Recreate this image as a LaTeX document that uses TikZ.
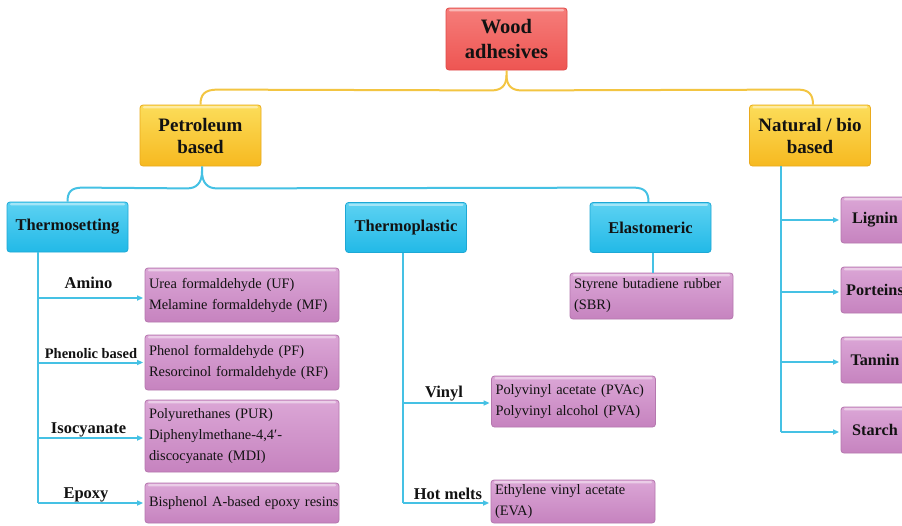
\documentclass[tikz,border=0pt]{standalone}
\usepackage{fontspec}
\setmainfont{Liberation Serif}
\newfontfamily\listfont[WordSpace=1.6]{Liberation Serif}
\usetikzlibrary{arrows.meta,calc}
\definecolor{redA}{HTML}{F57D7A}
\definecolor{redB}{HTML}{EE5552}
\definecolor{redD}{HTML}{E04A48}
\definecolor{yelA}{HTML}{FCDD5A}
\definecolor{yelB}{HTML}{F6B920}
\definecolor{yelD}{HTML}{EAAA1C}
\definecolor{bluA}{HTML}{5DD2F2}
\definecolor{bluB}{HTML}{22B9E7}
\definecolor{bluD}{HTML}{1EA8D5}
\definecolor{purA}{HTML}{DBA6D6}
\definecolor{purB}{HTML}{C683BF}
\definecolor{purD}{HTML}{B577AE}
\definecolor{lineY}{HTML}{F3C542}
\definecolor{lineB}{HTML}{45C1E4}
\definecolor{ink}{HTML}{121212}
\tikzset{
  gloss/.style={path picture={\fill[white,opacity=0.45,rounded corners=1pt]
     ([xshift=3pt,yshift=-1.2pt]path picture bounding box.north west) rectangle
     ([xshift=-3pt,yshift=-3.4pt]path picture bounding box.north east);}},
  basebox/.style={rounded corners=3pt, inner sep=0pt, text=ink, align=center,
     line width=0.8pt, gloss},
  rootbox/.style={basebox, draw=redD, top color=redA, bottom color=redB,
     minimum width=121pt, minimum height=62pt,
     font=\fontsize{20.5}{24.5}\selectfont\bfseries},
  catbox/.style={basebox, draw=yelD, top color=yelA, bottom color=yelB,
     minimum width=121pt, minimum height=61pt,
     font=\fontsize{19}{22}\selectfont\bfseries},
  typebox/.style={basebox, draw=bluD, top color=bluA, bottom color=bluB,
     minimum width=121pt, minimum height=50pt,
     font=\fontsize{16.5}{20}\selectfont\bfseries},
  leafbox/.style={basebox, draw=purD, top color=purA, bottom color=purB,
     minimum width=68pt, minimum height=46pt,
     font=\fontsize{16.2}{20}\selectfont\bfseries},
  listbox/.style={basebox, draw=purD, top color=purA, bottom color=purB,
     align=left, inner xsep=4pt, inner ysep=0pt,
     font=\listfont\fontsize{14.4}{21}\selectfont},
  lab/.style={font=\fontsize{16.5}{20}\selectfont\bfseries, text=ink, inner sep=0pt, anchor=base},
  yline/.style={draw=lineY, line width=2pt},
  bline/.style={draw=lineB, line width=2pt},
  barrow/.style={bline, -{Triangle[length=6pt,width=5pt]}, shorten >=1.5pt},
}
\begin{document}
\begin{tikzpicture}[x=1pt,y=-1pt]
\useasboundingbox (0,0) rectangle (902,525);
\fill[white] (0,0) rectangle (902,525);
\clip (0,0) rectangle (902,525);

% boxes
\node[rootbox] (root) at (506.5,39) {Wood\\adhesives};
\node[catbox] (pet) at (200.5,135.5) {Petroleum\\based};
\node[catbox] (nat) at (810,135.5) {Natural / bio\\based};

\node[typebox] (tset) at (67.5,227) {Thermosetting\rule[-1pt]{0pt}{1pt}};
\node[typebox] (tplas) at (406,227.5) {Thermoplastic};
\node[typebox] (elas) at (650.5,227.5) {Elastomeric};

\node[listbox, text width=155pt, minimum height=46pt] (sbr) at (651.5,296) {\mbox{Styrene butadiene rubber}\\(SBR)};

\node[listbox, text width=186pt, minimum height=54pt] (amino) at (242,295) {Urea formaldehyde (UF)\\Melamine formaldehyde (MF)};
\node[listbox, text width=186pt, minimum height=55pt] (phen) at (242,362.5) {Phenol formaldehyde (PF)\\\mbox{Resorcinol formaldehyde (RF)}};
\node[listbox, text width=186pt, minimum height=72pt] (iso) at (242,436) {Polyurethanes (PUR)\\Diphenylmethane-4,4′-\\discocyanate (MDI)};
\node[listbox, text width=186pt, minimum height=40pt] (epo) at (242,503) {\mbox{Bisphenol A-based epoxy resins}};

\node[listbox, text width=156pt, minimum height=51pt] (vin) at (573.5,401.5) {Polyvinyl acetate (PVAc)\\Polyvinyl alcohol (PVA)};
\node[listbox, text width=156pt, minimum height=43pt] (hot) at (573,501.5) {Ethylene vinyl acetate\\(EVA)};

\node[leafbox] (lig) at (875,220) {Lignin};
\node[leafbox] (por) at (875,290) {Porteins};
\node[leafbox] (tan) at (875,360) {Tannin};
\node[leafbox] (sta) at (875,430) {Starch};

% labels
\node[lab] (lamino) at (88.5,288) {Amino};
\node[lab, font=\fontsize{14.5}{18}\selectfont\bfseries] (lphen) at (91,358) {Phenolic based};
\node[lab] (liso) at (88.5,433) {Isocyanate};
\node[lab] (lepo) at (86,498) {Epoxy};
\node[lab] (lvin) at (444,397) {Vinyl};
\node[lab] (lhot) at (448,499) {Hot melts};

% yellow connectors
\path (root.south) ++(0,5) coordinate (rj);
\draw[yline] (root.south) -- (rj)
  .. controls ($(rj)+(0,11)$) and ($(rj)+(-6,15)$) .. ($(rj)+(-15,15)$)
  -- ($(pet.north)+(17,-15)$)
  .. controls ($(pet.north)+(4,-15)$) and ($(pet.north)+(0,-10)$) .. (pet.north);
\draw[yline] (rj)
  .. controls ($(rj)+(0,11)$) and ($(rj)+(6,15)$) .. ($(rj)+(15,15)$)
  -- ($(nat.north)+(-12,-15)$)
  .. controls ($(nat.north)+(-1,-15)$) and ($(nat.north)+(3,-10)$) .. ($(nat.north)+(3,0)$);

% blue connectors
\path (pet.south) ++(1.5,5) coordinate (pj);
\draw[bline] ($(pet.south)+(1.5,0)$) -- (pj)
  .. controls ($(pj)+(0,12)$) and ($(pj)+(-6,17)$) .. ($(pj)+(-15,17)$)
  -- ($(tset.north)+(15,-14)$)
  .. controls ($(tset.north)+(3,-14)$) and ($(tset.north)+(0,-9)$) .. (tset.north);
\draw[bline] (pj)
  .. controls ($(pj)+(0,12)$) and ($(pj)+(6,17)$) .. ($(pj)+(15,17)$)
  -- ($(elas.north)+(-17,-14.5)$)
  .. controls ($(elas.north)+(-5,-14.5)$) and ($(elas.north)+(-2,-9)$) .. ($(elas.north)+(-2,0)$);
\draw[bline] ($(elas.south)+(2,0)$) -- ($(elas.south |- sbr.north)+(2,0)$);

% thermosetting spine
\path (tset.south west) ++(31.5,0) coordinate (ts);
\draw[bline] (ts) -- (ts |- epo.west);
\draw[barrow] ($(ts |- amino.west)+(0,3)$) -- ($(amino.west)+(0,3)$);
\draw[barrow] (ts |- phen.west) -- (phen.west);
\draw[barrow] ($(ts |- iso.west)+(0,2)$) -- ($(iso.west)+(0,2)$);
\draw[barrow] (ts |- epo.west) -- (epo.west);

% thermoplastic spine
\path (tplas.south) ++(-3,0) coordinate (tp);
\draw[bline] (tp) -- ($(tp |- hot.west)+(0,1.5)$);
\draw[barrow] ($(tp |- vin.west)+(0,1.5)$) -- ($(vin.west)+(0,1.5)$);
\draw[barrow] ($(tp |- hot.west)+(0,1.5)$) -- ($(hot.west)+(0,1.5)$);

% natural spine
\path (nat.south west) ++(32,0) coordinate (ns);
\draw[bline] (ns) -- ($(ns |- sta.west)+(0,2)$);
\draw[barrow] (ns |- lig.west) -- (lig.west);
\draw[barrow] ($(ns |- por.west)+(0,2)$) -- ($(por.west)+(0,2)$);
\draw[barrow] ($(ns |- tan.west)+(0,2)$) -- ($(tan.west)+(0,2)$);
\draw[barrow] ($(ns |- sta.west)+(0,2)$) -- ($(sta.west)+(0,2)$);
\end{tikzpicture}
\end{document}
